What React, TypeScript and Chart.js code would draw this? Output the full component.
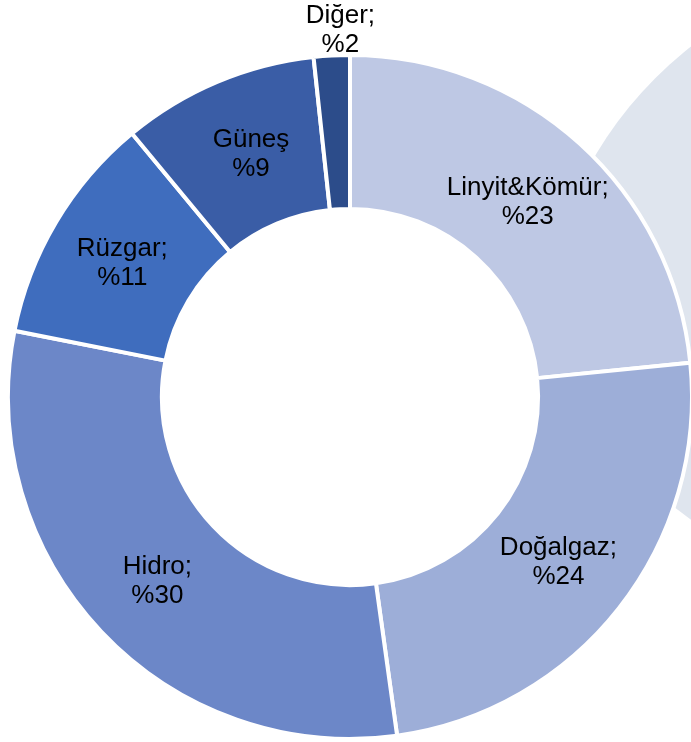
import React, { useEffect, useRef } from "react";
import { Chart, registerables } from "chart.js";

Chart.register(...registerables);

const categories = ["Linyit&Kömür", "Doğalgaz", "Hidro", "Rüzgar", "Güneş", "Diğer"];
const shares = [23.4, 24.4, 30.3, 10.9, 9.3, 1.7];
const percentLabels = ["%23", "%24", "%30", "%11", "%9", "%2"];
const nameLabels = ["Linyit&Kömür;", "Doğalgaz;", "Hidro;", "Rüzgar;", "Güneş", "Diğer;"];
const colors = ["#BEC8E4", "#9DAED8", "#6C87C8", "#3F6DBE", "#3A5DA6", "#2C4C8A"];

const labelPlugin = {
  id: "sliceLabels",
  afterDatasetsDraw(chart: any) {
    const ctx = chart.ctx;
    const meta = chart.getDatasetMeta(0);
    ctx.save();
    ctx.font = '26px "Liberation Sans", Arial, sans-serif';
    ctx.fillStyle = "#000000";
    ctx.textAlign = "center";
    ctx.textBaseline = "middle";
    meta.data.forEach((arc: any, i: number) => {
      let x: number, y: number;
      if (shares[i] < 5) {
        const props = arc.getProps(["x", "y", "startAngle", "endAngle", "outerRadius"], true);
        const mid = (props.startAngle + props.endAngle) / 2;
        const r = props.outerRadius + 25;
        x = props.x + Math.cos(mid) * r + 10;
        y = props.y + Math.sin(mid) * r;
      } else {
        const p = arc.tooltipPosition(true);
        x = p.x + (i === 4 ? 4 : 0);
        y = p.y + 2;
      }
      ctx.fillText(nameLabels[i], x, y - 14.5);
      ctx.fillText(percentLabels[i], x, y + 14.5);
    });
    ctx.restore();
  },
};

export default function App() {
  const canvasRef = useRef<HTMLCanvasElement | null>(null);

  useEffect(() => {
    if (!canvasRef.current) return;
    const chart = new Chart(canvasRef.current, {
      type: "doughnut",
      data: {
        labels: categories,
        datasets: [
          {
            data: shares,
            backgroundColor: colors,
            borderColor: "#FFFFFF",
            borderWidth: 4,
            hoverOffset: 0,
          },
        ],
      },
      options: {
        animation: false,
        responsive: false,
        cutout: "55%",
        layout: { padding: { left: 6, right: 6, top: 53, bottom: 1 } },
        plugins: {
          legend: { display: false },
          tooltip: { enabled: false },
        },
      },
      plugins: [labelPlugin],
    });
    return () => chart.destroy();
  }, []);

  return (
    <div
      style={{
        position: "fixed",
        left: 0,
        top: 0,
        width: 691,
        height: 742,
        overflow: "hidden",
        background: "#FFFFFF",
      }}
    >
      <div
        style={{
          position: "absolute",
          left: 541,
          top: -36,
          width: 780,
          height: 780,
          borderRadius: "50%",
          background: "#DFE5EE",
          clipPath: "polygon(0px 0px, 780px 0px, 780px 1029px, 0px 443px)",
        }}
      />
      <canvas
        ref={canvasRef}
        width={700}
        height={742}
        style={{ position: "absolute", left: 0, top: 0, width: 700, height: 742 }}
      />
    </div>
  );
}
